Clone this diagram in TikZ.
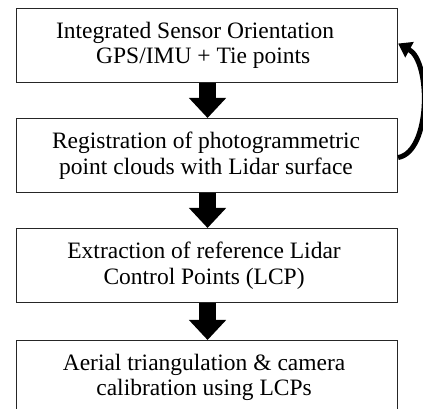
\documentclass[tikz,border=0pt]{standalone}
\usepackage{fontspec}
\setmainfont{Liberation Serif}
\usetikzlibrary{arrows.meta,calc}
\tikzset{
  stepbox/.style={draw=black!85, line width=1.1pt, minimum width=381pt, minimum height=74pt,
    inner sep=0pt, anchor=north west},
  steptext/.style={align=center, font=\fontsize{23.5}{25.5}\selectfont, inner sep=0pt},
  blockarrow/.style={line width=17pt, -{Triangle[width=36pt,length=20pt]}, draw=black},
  loopback/.style={line width=5pt, -{Triangle[width=17pt,length=13pt]}, draw=black},
}
\begin{document}
\begin{tikzpicture}[x=1pt,y=1pt]
  \useasboundingbox (0,0) rectangle (423,409);
  % process boxes, top to bottom
  \node[stepbox] (b1) at (16,401) {};
  \node[stepbox] (b2) at (16,291) {};
  \node[stepbox] (b3) at (16,181) {};
  \node[stepbox] (b4) at (16,69) {};
  % box captions
  \node[steptext] (t1) at ($(b1.center)+(-12,0)$) {Integrated Sensor Orientation\\ \hspace*{0.7em}GPS/IMU + Tie points};
  \node[steptext] (t2) at ($(b2.center)+(-1,0)$) {Registration of photogrammetric\\point clouds with Lidar surface};
  \node[steptext] (t3) at ($(b3.center)+(-3,0)$) {Extraction of reference Lidar\\Control Points (LCP)};
  \node[steptext] (t4) at ($(b4.center)+(-3,0)$) {Aerial triangulation \& camera\\calibration using LCPs};
  % downward flow
  \draw[blockarrow] ($(b1.south)+(0.5,0)$) -- ($(b2.north)+(0.5,0)$);
  \draw[blockarrow] ($(b2.south)+(0.5,0)$) -- ($(b3.north)+(0.5,0)$);
  \draw[blockarrow] ($(b3.south)+(0.5,0)$) -- ($(b4.north)+(0.5,0)$);
  % feedback loop from registration back to orientation
  \draw[loopback] ($(b2.east)+(0,-2)$) .. controls +(33,6) and +(33,-18) .. ($(b1.east)+(0,2)$);
\end{tikzpicture}
\end{document}
